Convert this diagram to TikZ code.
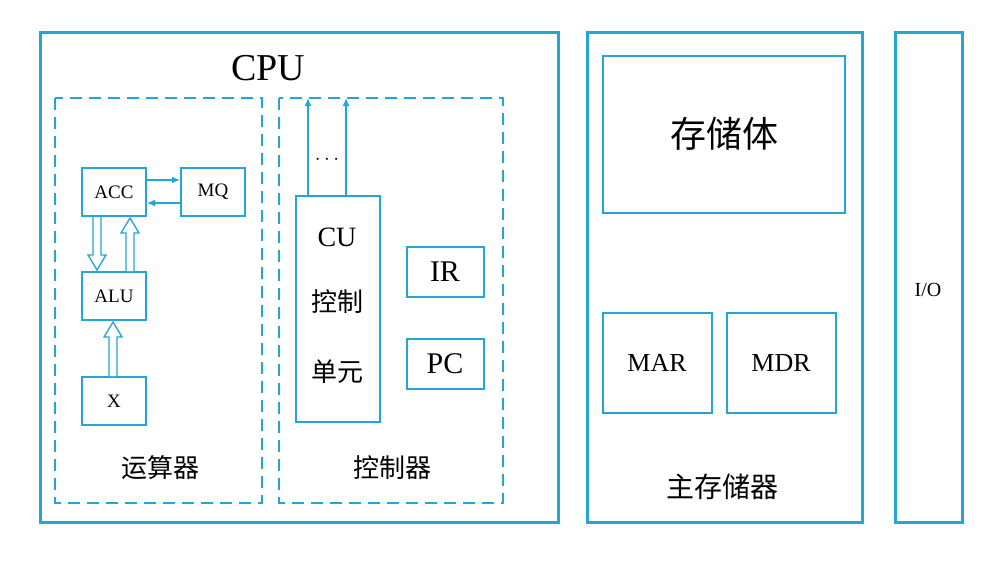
\documentclass[tikz,border=0pt]{standalone}
\usepackage{fontspec}
\setmainfont{Liberation Serif}
\newfontfamily\cjk{Noto Sans CJK SC}
\usetikzlibrary{arrows.meta}
\definecolor{bl}{RGB}{35,165,215}
\begin{document}
\begin{tikzpicture}[x=1pt,y=-1pt,
  frame/.style={draw=bl,line width=3pt},
  box/.style={draw=bl,line width=2pt,fill=white},
  dbox/.style={draw=bl,line width=2pt,dash pattern=on 12pt off 7pt},
  arr/.style={draw=bl,line width=1.5pt,-{Latex[length=8pt,width=7pt]}},
  hol/.style={draw=bl,line width=1.3pt,fill=white,line join=miter}]
\useasboundingbox (0,0) rectangle (1000,566);
\fill[white] (0,0) rectangle (1000,566);
% CPU
\draw[frame] (40,32) rectangle (558,522);
\node (cpu) at (268,68) {\fontsize{38}{40}\selectfont CPU};
\draw[dbox] (55,98) rectangle (262,503);
\draw[dbox] (279,98) rectangle (503,503);
\node[box,minimum width=64pt,minimum height=48pt] (acc) at (114,192) {\fontsize{19}{21}\selectfont ACC};
\node[box,minimum width=64pt,minimum height=48pt] (mq) at (213,192) {\fontsize{19}{21}\selectfont MQ};
\node[box,minimum width=64pt,minimum height=48pt] (alu) at (114,296) {\fontsize{19}{21}\selectfont ALU};
\node[box,minimum width=64pt,minimum height=48pt] (x) at (114,401) {\fontsize{19}{21}\selectfont X};
\draw[arr] ([yshift=12pt]acc.east) -- ([yshift=12pt]mq.west);
\draw[arr] ([yshift=-11pt]mq.west) -- ([yshift=-11pt]acc.east);
% hollow arrows
\draw[hol] (93,217) -- (93,255) -- (88,255) -- (97,270) -- (106,255) -- (101,255) -- (101,217);
\draw[hol] (126,271) -- (126,233) -- (121,233) -- (130,218) -- (139,233) -- (134,233) -- (134,271);
\draw[hol] (109,376) -- (109,337) -- (104,337) -- (113,322) -- (122,337) -- (117,337) -- (117,376);
\node (ys) at (160,468) {\cjk\fontsize{26}{28}\selectfont 运算器};
% control
\node[box,minimum width=84pt,minimum height=226pt] (cu) at (338,309) {};
\node at (337,237) {\fontsize{28}{30}\selectfont CU};
\node at (337,302) {\cjk\fontsize{26}{28}\selectfont 控制};
\node at (337,372) {\cjk\fontsize{26}{28}\selectfont 单元};
\coordinate (t1) at (308,98);
\coordinate (t2) at (346,98);
\draw[arr] (cu.north -| t1) -- (t1);
\draw[arr] (cu.north -| t2) -- (t2);
\node (dots) at (327,160) {\fontsize{20}{20}\selectfont $\cdots$};
\node[box,minimum width=77pt,minimum height=50pt] (ir) at (445,272) {\fontsize{30}{32}\selectfont IR};
\node[box,minimum width=77pt,minimum height=50pt] (pc) at (445,364) {\fontsize{30}{32}\selectfont PC};
\node (kz) at (392,468) {\cjk\fontsize{26}{28}\selectfont 控制器};
% memory
\draw[frame] (587,32) rectangle (862,522);
\node[box,minimum width=242pt,minimum height=157pt] (cc) at (724,134) {\cjk\fontsize{36}{38}\selectfont 存储体};
\node[box,minimum width=109pt,minimum height=100pt] (mar) at (657,363) {\fontsize{26}{28}\selectfont MAR};
\node[box,minimum width=109pt,minimum height=100pt] (mdr) at (781,363) {\fontsize{26}{28}\selectfont MDR};
\node (zc) at (722,487) {\cjk\fontsize{28}{30}\selectfont 主存储器};
% IO
\draw[frame] (895,32) rectangle (962,522);
\node (io) at (928,290) {\fontsize{20}{22}\selectfont I/O};
\end{tikzpicture}
\end{document}
